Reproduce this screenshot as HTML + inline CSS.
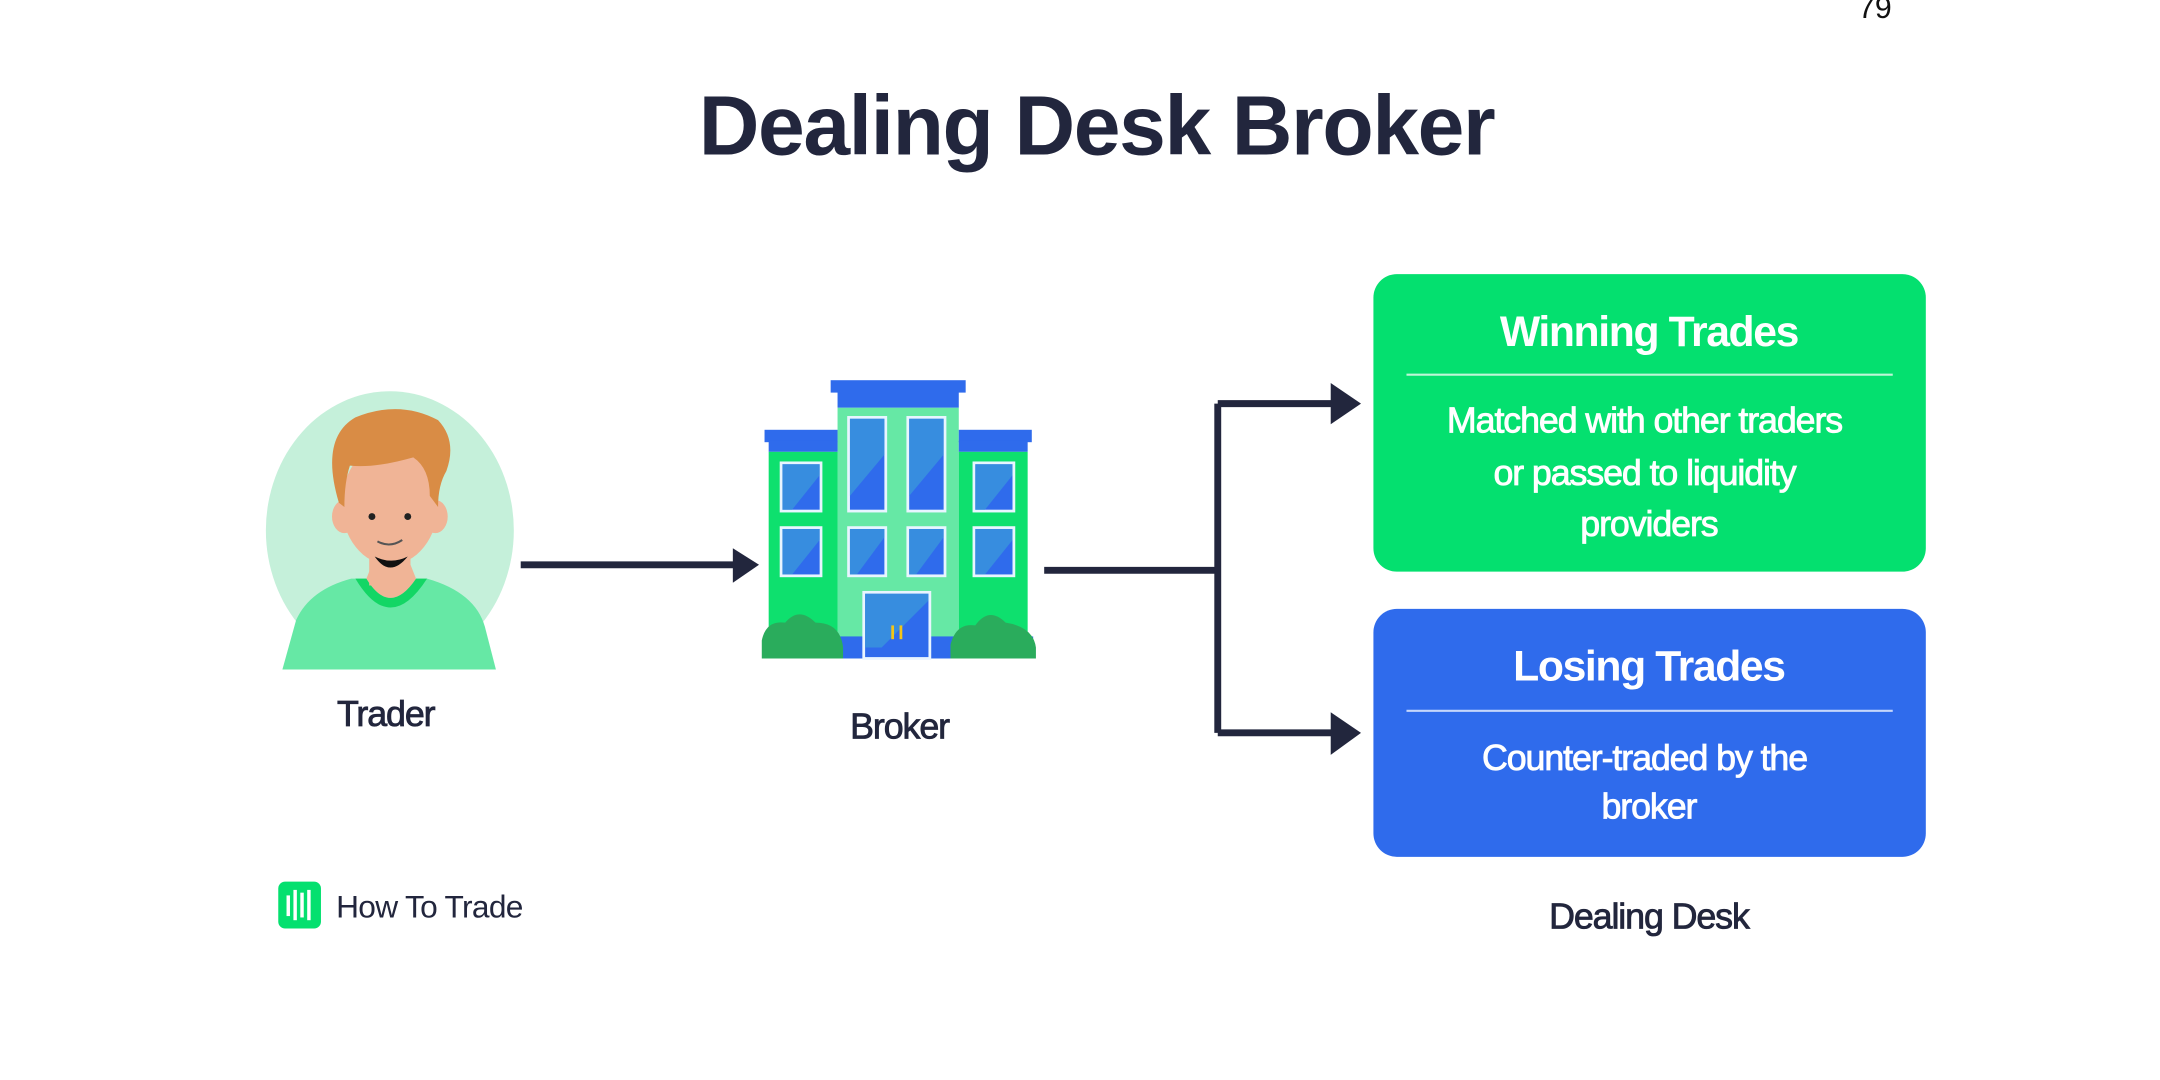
<!DOCTYPE html>
<html><head><meta charset="utf-8"><style>
html,body{margin:0;padding:0;background:#fff;width:2160px;height:1080px;overflow:hidden}
svg{display:block}
text{font-family:"Liberation Sans",Arial,sans-serif}
.m{stroke-width:0.6}
</style></head><body>
<svg width="2160" height="1080" viewBox="0 0 1568 784" xmlns="http://www.w3.org/2000/svg">
<rect width="1568" height="784" fill="#fff"/>
<text x="1361" y="13" font-size="22" fill="#111" text-anchor="middle">79</text>
<text x="796" y="112" font-size="61" font-weight="bold" fill="#22263d" text-anchor="middle" letter-spacing="-1">Dealing Desk Broker</text>

<!-- trader -->
<ellipse cx="283" cy="385" rx="90" ry="101" fill="#c5f0da"/>
<path d="M205,486 L215,450 Q225,428 255,420 L310,420 Q345,430 352,455 L360,486 Z" fill="#66e8a5"/>
<path d="M258,420 Q283,462 310,420 L302,420 Q283,448 266,420 Z" fill="#13d665"/>
<rect x="268" y="385" width="30" height="40" fill="#f0b496"/>
<path d="M266,420 Q283,448 302,420 L298,410 L270,410 Z" fill="#f0b496"/>
<ellipse cx="250" cy="375" rx="9" ry="12" fill="#f0b496"/>
<ellipse cx="316" cy="375" rx="9" ry="12" fill="#f0b496"/>
<ellipse cx="283" cy="366" rx="35" ry="44" fill="#f0b496"/>
<path d="M272,404 Q283,420 296,404 Q284,410 272,404 Z" fill="#111"/>
<path d="M246,365 Q232,318 258,303 Q290,290 318,305 Q332,320 324,342 Q318,352 318,368 L312,360 Q312,340 300,332 Q272,340 254,338 Q250,350 250,368 Z" fill="#d98c45"/>
<circle cx="270" cy="375" r="2.5" fill="#222"/><circle cx="296" cy="375" r="2.5" fill="#222"/>
<path d="M274,393 Q283,398 292,392" stroke="#555" stroke-width="1.5" fill="none"/>
<text class="m" x="280" y="527" font-size="26" fill="#22263d" stroke="#22263d" text-anchor="middle" letter-spacing="-0.8">Trader</text>

<!-- arrow 1 -->
<line x1="378" y1="410" x2="535" y2="410" stroke="#22263d" stroke-width="5"/>
<path d="M532,398 L551,410 L532,423 Z" fill="#22263d"/>

<!-- building -->
<rect x="603" y="276" width="98" height="9" fill="#2f6bec"/>
<rect x="608" y="284" width="88" height="12" fill="#2f6bec"/>
<rect x="608" y="296" width="88" height="182" fill="#66e8a5"/>
<rect x="555" y="312" width="53" height="9" fill="#2f6bec"/><rect x="558" y="320" width="50" height="8" fill="#2f6bec"/>
<rect x="696" y="312" width="53" height="9" fill="#2f6bec"/><rect x="696" y="320" width="50" height="8" fill="#2f6bec"/>
<rect x="558" y="328" width="50" height="150" fill="#0ee06e"/>
<rect x="696" y="328" width="50" height="150" fill="#0ee06e"/>
<g fill="#2f6bec" stroke="#e8f5ff" stroke-width="2">
<rect x="616" y="303" width="27" height="68"/><rect x="659" y="303" width="27" height="68"/>
<rect x="567" y="336" width="29" height="35"/><rect x="707" y="336" width="29" height="35"/>
<rect x="567" y="383" width="29" height="35"/><rect x="707" y="383" width="29" height="35"/>
<rect x="616" y="383" width="27" height="35"/><rect x="659" y="383" width="27" height="35"/>
</g>
<g fill="#3a96dc" opacity="0.8">
<path d="M617,304 L642,304 L642,330 L617,360 Z"/><path d="M660,304 L685,304 L685,330 L660,360 Z"/>
<path d="M568,337 L595,337 L595,345 L575,370 L568,370 Z"/><path d="M708,337 L735,337 L735,345 L715,370 L708,370 Z"/>
<path d="M568,384 L595,384 L595,392 L575,417 L568,417 Z"/><path d="M708,384 L735,384 L735,392 L715,417 L708,417 Z"/>
<path d="M617,384 L642,384 L642,390 L622,417 L617,417 Z"/><path d="M660,384 L685,384 L685,390 L665,417 L660,417 Z"/>
</g>
<rect x="555" y="462" width="195" height="16" fill="#2f6bec"/>
<rect x="627" y="430" width="48" height="48" fill="#2f6bec" stroke="#e8f5ff" stroke-width="2"/>
<path d="M628,431 L674,431 L674,436 L640,470 L628,470 Z" fill="#3a96dc" opacity="0.8"/>
<rect x="647" y="454" width="2" height="10" fill="#f2c418"/><rect x="653" y="454" width="2" height="10" fill="#f2c418"/>
<path d="M553,478 L553,465 Q556,450 570,452 Q580,440 592,452 Q610,452 612,470 L612,478 Z" fill="#2aac5c"/>
<path d="M690,478 L690,468 Q694,452 708,454 Q718,440 730,452 Q750,455 752,470 L752,478 Z" fill="#2aac5c"/>
<text class="m" x="653" y="536" font-size="26" fill="#22263d" stroke="#22263d" text-anchor="middle" letter-spacing="-0.8">Broker</text>

<!-- connectors -->
<path d="M758,414 L884,414 M884,293 L884,532 M884,293 L972,293 M884,532 L972,532" stroke="#22263d" stroke-width="5" fill="none" stroke-linejoin="round"/>
<path d="M966,278 L988,293 L966,308 Z" fill="#22263d"/>
<path d="M966,517 L988,532 L966,548 Z" fill="#22263d"/>

<!-- boxes -->
<rect x="997" y="199" width="401" height="216" rx="17" fill="#04e06f"/>
<text x="1197" y="251" font-size="31" font-weight="bold" fill="#fff" text-anchor="middle" letter-spacing="-1">Winning Trades</text>
<line x1="1021" y1="272" x2="1374" y2="272" stroke="#bff6d7" stroke-width="1.5"/>
<text class="m" font-size="26" fill="#fff" stroke="#fff" text-anchor="middle" letter-spacing="-0.8">
<tspan x="1197" y="314">Matched with other traders</tspan>
<tspan x="1197" y="352">or passed to liquidity</tspan>
<tspan x="1197" y="389">providers</tspan></text>

<rect x="997" y="442" width="401" height="180" rx="17" fill="#2f6bec"/>
<text x="1197" y="494" font-size="31" font-weight="bold" fill="#fff" text-anchor="middle" letter-spacing="-1">Losing Trades</text>
<line x1="1021" y1="516" x2="1374" y2="516" stroke="#c5d6fb" stroke-width="1.5"/>
<text class="m" font-size="26" fill="#fff" stroke="#fff" text-anchor="middle" letter-spacing="-0.8">
<tspan x="1197" y="559">Counter-traded by the</tspan>
<tspan x="1197" y="594">broker</tspan></text>

<text class="m" x="1197" y="674" font-size="26" fill="#22263d" stroke="#22263d" text-anchor="middle" letter-spacing="-0.8">Dealing Desk</text>

<!-- logo -->
<rect x="202" y="640" width="31" height="34" rx="5" fill="#04e06f"/>
<g fill="#fff"><rect x="208" y="650" width="2.5" height="15"/><rect x="213" y="646" width="2.5" height="22"/><rect x="218" y="648" width="2.5" height="18"/><rect x="223" y="646" width="2.5" height="22"/></g>
<text x="244" y="666" font-size="23" fill="#22263d" letter-spacing="-0.5">How To Trade</text>
</svg>
</body></html>
